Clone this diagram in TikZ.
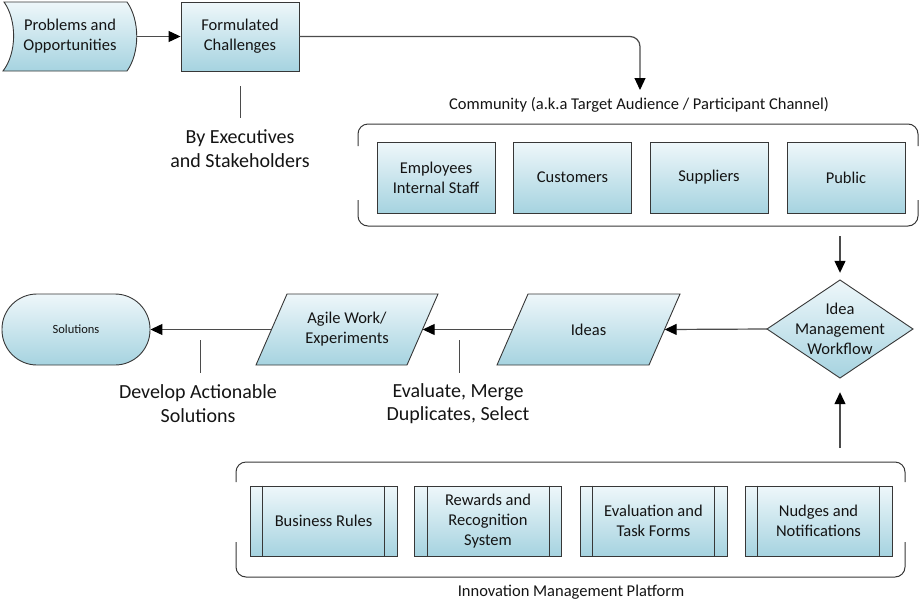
\documentclass[tikz,border=0pt]{standalone}
\usepackage{fontspec}
\setmainfont{Carlito}
\usetikzlibrary{arrows.meta}
\definecolor{fillTop}{RGB}{238,247,250}
\definecolor{fillBot}{RGB}{166,211,224}
\definecolor{edgec}{RGB}{55,55,55}
\definecolor{connc}{RGB}{75,75,75}
\definecolor{txtc}{RGB}{20,20,20}
\begin{document}
\begin{tikzpicture}[x=1pt,y=-1pt,
  shade/.style={draw=edgec, line width=0.9pt, top color=fillTop, bottom color=fillBot},
  box/.style={shade, rectangle, text=txtc, align=center, inner sep=0pt, font=\fontsize{16.5}{20}\selectfont},
  txtnode/.style={rectangle, text=txtc, align=center, inner sep=0pt, font=\fontsize{16.5}{20}\selectfont},
  bigtxt/.style={rectangle, text=txtc, align=center, inner sep=0pt, font=\fontsize{20}{23.5}\selectfont},
  arr/.style={draw=connc, line width=1.2pt, -{Triangle[length=12pt,width=11pt,color=black]}},
  note/.style={draw=connc, line width=1pt},
  bracket/.style={draw=edgec, line width=1pt, rounded corners=10pt},
  inner/.style={draw=edgec, line width=0.9pt}
]
\useasboundingbox (0,0) rectangle (921,611);

% Problems and Opportunities (custom shape)
\path[shade] (4,2) -- (127,2) .. controls (140,20) and (140,53) .. (127,71)
  -- (3,71) .. controls (17,53) and (17,20) .. (4,2) -- cycle;
\node[txtnode, minimum width=134pt, minimum height=69pt] (prob) at (70,36.5) {Problems and\\Opportunities};

% Formulated Challenges
\node[box, minimum width=118pt, minimum height=69pt] (form) at (240,36.5) {Formulated\\Challenges};

\draw[arr] (prob.east) -- (form.west);
\coordinate (ctip) at (640,90);
\draw[arr, rounded corners=10pt] (form.east) -| (ctip);

% annotation under Formulated
\coordinate (a1) at (240,86);
\coordinate (a2) at (240,118);
\draw[note] (a1) -- (a2);
\node[bigtxt] (exec) at (240,148.5) {By Executives\\and Stakeholders};

% Community
\node[txtnode] (comlabel) at (639,105) {Community (a.k.a Target Audience / Participant Channel)};
\draw[bracket] (358,146) -- (358,124) -- (918,124) -- (918,146);
\draw[bracket] (358,200) -- (358,226) -- (918,226) -- (918,200);
\coordinate (cbot) at (840,226);
\node[box, minimum width=118pt, minimum height=71pt] (emp) at (436,177.5) {Employees\\Internal Staff};
\node[box, minimum width=118pt, minimum height=71pt] (cust) at (572.5,177.5) {Customers};
\node[box, minimum width=118pt, minimum height=71pt] (supp) at (709,177.5) {Suppliers};
\node[box, minimum width=118pt, minimum height=71pt] (pub) at (846,177.5) {Public};

% Idea Management Workflow (diamond)
\path[shade] (840,280) -- (913,329) -- (840,378) -- (767,329) -- cycle;
\node[txtnode, minimum width=146pt, minimum height=98pt] (idea) at (840,329) {Idea\\Management\\Workflow};
\draw[arr, shorten <=10pt, shorten >=7pt] (cbot) -- (idea.north);

% Ideas
\path[shade] (497,365) -- (528,294) -- (680,294) -- (649,365) -- cycle;
\node[txtnode, minimum width=152pt, minimum height=71pt] (ideas) at (588.5,329.5) {Ideas};

% Agile Work
\path[shade] (256,365) -- (287,294) -- (438,294) -- (407,365) -- cycle;
\node[txtnode, minimum width=151pt, minimum height=71pt] (agile) at (347,329.5) {Agile Work/\\Experiments};

% Solutions
\node[box, rounded corners=35pt, minimum width=148pt, minimum height=71pt, font=\fontsize{12.5}{15}\selectfont] (sol) at (76,329.5) {Solutions};

\draw[arr] (idea.west) -- (ideas.east);
\draw[arr] (ideas.west) -- (agile.east);
\draw[arr] (agile.west) -- (sol.east);

% annotations
\coordinate (d1) at (200,340);
\coordinate (d2) at (200,373);
\draw[note] (d1) -- (d2);
\node[bigtxt] (dev) at (198,403.5) {Develop Actionable\\Solutions};
\coordinate (e1) at (459,340);
\coordinate (e2) at (459,373);
\draw[note] (e1) -- (e2);
\node[bigtxt] (eval) at (458,403.5) {Evaluate, Merge\\Duplicates, Select};

% Innovation Management Platform
\draw[bracket] (236,482) -- (236,462) -- (905,462) -- (905,482);
\draw[bracket] (236,542) -- (236,577) -- (905,577) -- (905,542);
\coordinate (ptop) at (840,462);
\draw[arr, shorten <=14pt, shorten >=14pt] (ptop) -- (idea.south);
\node[txtnode] (platlabel) at (571,592) {Innovation Management Platform};

\foreach \n/\x/\t in {br/323.5/{Business Rules}, rr/488/{Rewards and\\Recognition\\System}, ev/653.5/{Evaluation and\\Task Forms}, nu/818.5/{Nudges and\\Notifications}} {
  \node[box, minimum width=147pt, minimum height=70pt] (\n) at (\x,521) {\t};
  \draw[inner] ([xshift=13pt]\n.north west) -- ([xshift=13pt]\n.south west);
  \draw[inner] ([xshift=-13pt]\n.north east) -- ([xshift=-13pt]\n.south east);
}
\end{tikzpicture}
\end{document}
